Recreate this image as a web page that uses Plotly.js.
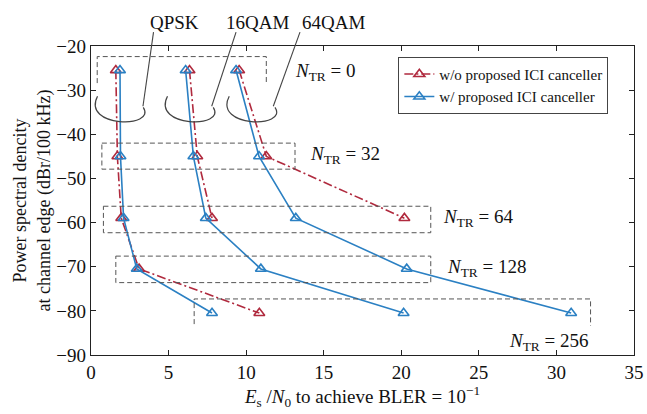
<!DOCTYPE html>
<html><head><meta charset="utf-8">
<script src="https://cdn.plot.ly/plotly-3.0.1.min.js"></script>
<style>html,body{margin:0;padding:0;background:#fff}#plot{width:647px;height:414px}
#plot svg text{font-family:"Liberation Serif","Times New Roman",serif !important}</style>
</head><body><div id="plot"></div>
<script>
// PSD at channel edge (dBr/100kHz) for each N_TR
const psdLevels = [-25.5, -45, -59, -70.5, -80.5];
// Es/N0 required (dB) — without proposed ICI canceller
const qpskWo  = [1.6, 1.7, 1.95, 3.1, 10.85];
const qam16Wo = [6.35, 6.85, 7.8];
const qam64Wo = [9.55, 11.3, 20.2];
// with proposed ICI canceller
const qpskW   = [1.87, 1.9, 2.1, 2.95, 7.8];
const qam16W  = [6.1, 6.6, 7.4, 10.95, 20.15];
const qam64W  = [9.35, 10.83, 13.2, 20.35, 30.95];

const ntrLabels = ['0', '32', '64', '128', '256'];
const modLabels = ['QPSK', '16QAM', '64QAM'];

const red = '#b02a3e', blue = '#2b80c3';
const serif = '"Liberation Serif", "Times New Roman", serif';

function trace(x, color, dash, name, show) {
  return {
    x: x, y: psdLevels.slice(0, x.length), type: 'scatter', mode: 'lines+markers',
    name: name, showlegend: show, legendgroup: name,
    line: {color: color, width: 1.6, dash: dash},
    marker: {symbol: 'triangle-up-open', size: 9.5, color: color, line: {width: 1.6, color: color}},
    cliponaxis: false
  };
}
const woName = 'w/o proposed ICI canceller', wName = 'w/ proposed ICI canceller';
const dd = '9px,3px,2px,3px';
const data = [
  trace(qpskWo, red, dd, woName, true),
  trace(qpskW, blue, 'solid', wName, true),
  trace(qam16Wo, red, dd, woName, false),
  trace(qam16W, blue, 'solid', wName, false),
  trace(qam64Wo, red, dd, woName, false),
  trace(qam64W, blue, 'solid', wName, false)
];

const gray = '#555';
const boxLine = {color: gray, width: 1, dash: '5px,3px'};
function box(x0, x1, y0, y1) {
  return {type: 'rect', xref: 'x', yref: 'y', x0: x0, x1: x1, y0: y0, y1: y1, line: boxLine};
}
function openBox(x0, x1, yTop, yL, yR) {
  return {type: 'path', xref: 'x', yref: 'y',
    path: `M ${x0},${yL} L ${x0},${yTop} L ${x1},${yTop} L ${x1},${yR}`, line: boxLine};
}
function cup(cx, cy) {
  return {type: 'path', xref: 'x', yref: 'y', line: {color: '#444', width: 1.2},
    path: `M ${cx-1.45},${cy+0.9} C ${cx-2.5},${cy-6.2} ${cx+2.4},${cy-6.4} ${cx+1.5},${cy-1.6}`};
}
function leader(xa, xb) {
  return {type: 'line', xref: 'x', yref: 'paper', x0: xa, y0: 1.045, x1: xb, y1: 0.805,
    line: {color: '#444', width: 1.1}};
}
const cupX = [1.87, 6.38, 10.36];
const leadTop = [4.03, 9.35, 13.47];
const leadBot = [3.35, 7.78, 11.75];
const shapes = [
  openBox(0.4, 11.3, -22.4, -28.4, -28.4),
  box(0.7, 13.15, -42, -47.9),
  box(0.8, 21.9, -56.3, -62.3),
  box(1.6, 21.9, -67.6, -73.6),
  openBox(6.65, 32.2, -77.3, -83, -83.4)
];
cupX.forEach((c, i) => { shapes.push(cup(c, -32.3)); shapes.push(leader(leadTop[i], leadBot[i])); });

const ntrPos = [[13.05, -25.8], [14.0, -44.8], [22.55, -59], [22.8, -70.4], [26.8, -87]];
const annotations = ntrPos.map((p, i) => ({
  x: p[0], y: p[1], xref: 'x', yref: 'y', xanchor: 'left', yanchor: 'middle', showarrow: false,
  text: '<i>N</i><sub>TR</sub> = ' + ntrLabels[i], font: {family: serif, size: 19, color: '#111'}
}));
const modX = [5.4, 10.75, 15.6];
modLabels.forEach((m, i) => annotations.push({
  x: modX[i], y: 1.075, xref: 'x', yref: 'paper', xanchor: 'center', yanchor: 'middle', showarrow: false,
  text: m, font: {family: serif, size: 19, color: '#111'}
}));

const layout = {
  width: 647, height: 414,
  margin: {l: 91, r: 13, t: 46, b: 59},
  paper_bgcolor: '#fff', plot_bgcolor: '#fff',
  font: {family: serif, color: '#111'},
  xaxis: {range: [0, 35], dtick: 5, tick0: 0, ticks: 'inside', ticklen: 5, tickcolor: '#222',
    showline: true, linecolor: '#222', linewidth: 1.2, mirror: 'ticks', showgrid: false, zeroline: false,
    tickfont: {family: serif, size: 19, color: '#111'},
    title: {text: '<i>E</i><sub>s</sub> /<i>N</i><sub>0</sub> to achieve BLER = 10<sup>−1</sup>',
      font: {family: serif, size: 19, color: '#111'}, standoff: 4}},
  yaxis: {range: [-90, -20], dtick: 10, tick0: -90, ticks: 'inside', ticklen: 5, tickcolor: '#222',
    showline: true, linecolor: '#222', linewidth: 1.2, mirror: 'ticks', showgrid: false, zeroline: false,
    tickfont: {family: serif, size: 19, color: '#111'},
    title: {text: 'Power spectral dencity<br>at channel edge (dBr/100 kHz)',
      font: {family: serif, size: 18, color: '#111'}, standoff: 1}},
  legend: {x: 0.566, y: 0.965, xanchor: 'left', yanchor: 'top', bgcolor: '#fff',
    bordercolor: '#444', borderwidth: 1, font: {family: serif, size: 15, color: '#111'},
    tracegroupgap: 0},
  shapes: shapes,
  annotations: annotations,
  showlegend: true
};
Plotly.newPlot('plot', data, layout, {displayModeBar: false, staticPlot: true});
</script></body></html>
